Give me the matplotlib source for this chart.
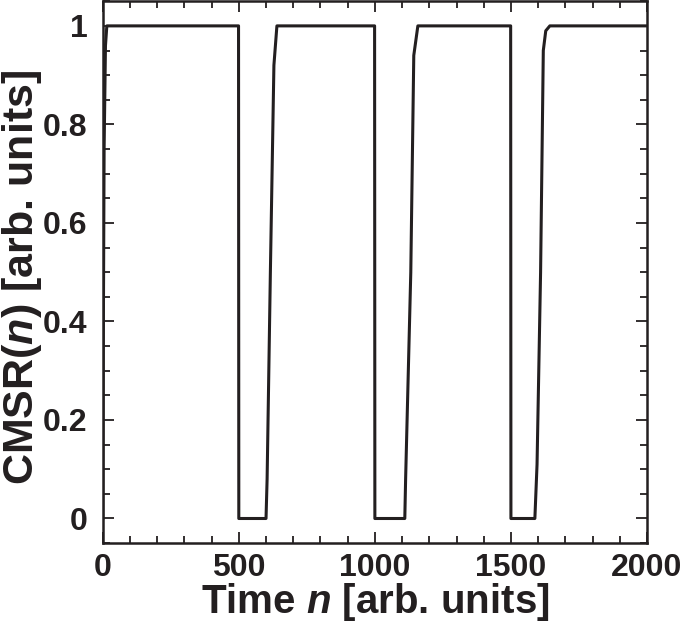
import matplotlib
matplotlib.use("Agg")
import matplotlib.pyplot as plt
from matplotlib.ticker import MultipleLocator, FuncFormatter

plt.rcParams['font.family'] = ['Liberation Sans', 'DejaVu Sans']
plt.rcParams['font.weight'] = 'bold'
plt.rcParams['mathtext.fontset'] = 'custom'
plt.rcParams['mathtext.it'] = 'Liberation Sans:italic:bold'
plt.rcParams['mathtext.rm'] = 'Liberation Sans:bold'

# Data
time_n = [0, 2, 5, 10, 15,
          499, 500, 600, 604, 616, 629, 640,
          999, 1000, 1110, 1113, 1132, 1143, 1158,
          1499, 1500, 1588, 1596, 1609, 1619, 1628, 1643,
          2000]
cmsr = [0.0, 0.35, 0.75, 0.96, 1.0,
        1.0, 0.0, 0.0, 0.08, 0.5, 0.92, 1.0,
        1.0, 0.0, 0.0, 0.08, 0.5, 0.94, 1.0,
        1.0, 0.0, 0.0, 0.11, 0.5, 0.95, 0.99, 1.0,
        1.0]

fig = plt.figure(figsize=(6.85, 6.25), dpi=100)
ax = fig.add_axes([0.150, 0.131, 0.7945, 0.867])
ax.plot(time_n, cmsr, color='#231f20', lw=2.2)

ax.set_xlim(0, 2000)
ax.set_ylim(-0.05, 1.05)
ax.xaxis.set_major_locator(MultipleLocator(500))
ax.xaxis.set_minor_locator(MultipleLocator(100))
ax.yaxis.set_major_locator(MultipleLocator(0.2))
ax.yaxis.set_minor_locator(MultipleLocator(0.05))

def yfmt(v, pos):
    if abs(v) < 1e-9:
        return '0'
    if abs(v - 1) < 1e-9:
        return '1'
    return f'{v:.1f}'
ax.yaxis.set_major_formatter(FuncFormatter(yfmt))

ax.tick_params(which='both', direction='in', top=True, right=True, color='#231f20', width=1.3)
ax.tick_params(which='major', length=8)
ax.tick_params(which='minor', length=5)
ax.tick_params(axis='x', which='major', labelsize=23, pad=7, labelcolor='#231f20')
ax.tick_params(axis='y', which='major', labelsize=23, pad=11, labelcolor='#231f20')
for s in ax.spines.values():
    s.set_linewidth(1.8)
    s.set_color('#231f20')

ax.set_xlabel(r'Time $n$ [arb. units]', fontsize=29, fontweight='bold', color='#231f20', labelpad=-1)
ax.set_ylabel(r'CMSR($n$) [arb. units]', fontsize=31, fontweight='bold', color='#231f20')
ax.yaxis.set_label_coords(-0.108, 0.49)

fig.savefig('out.png', dpi=100)
